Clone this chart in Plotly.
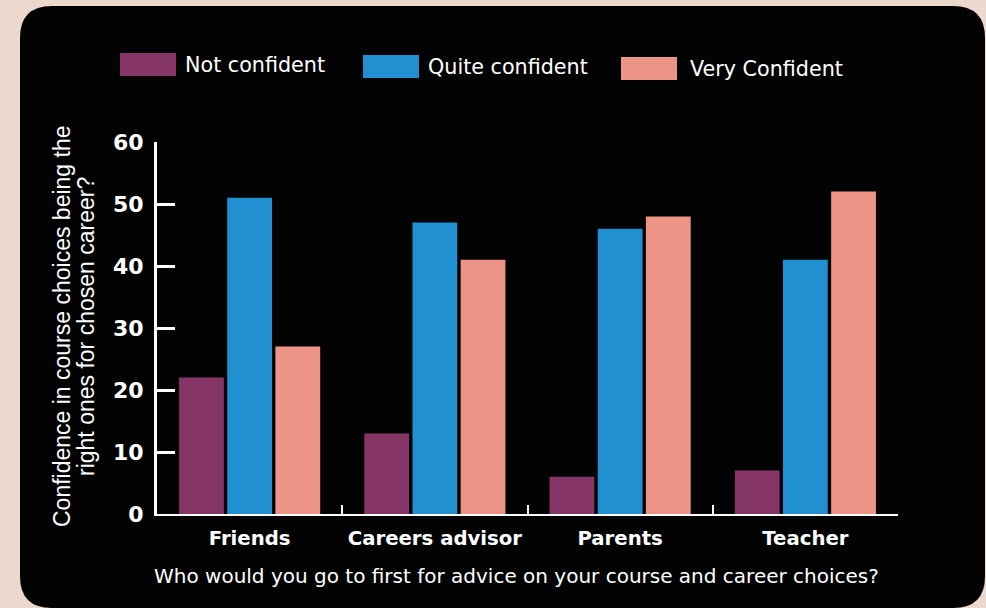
import plotly.graph_objects as go

# --- data -----------------------------------------------------------------
categories = ["Friends", "Careers advisor", "Parents", "Teacher"]
series_names = ["Not confident", "Quite confident", "Very Confident"]
not_confident = [22, 13, 6, 7]
quite_confident = [51, 47, 46, 41]
very_confident = [27, 41, 48, 52]
y_ticks = [0, 10, 20, 30, 40, 50, 60]

colors = ["#863567", "#2190D0", "#EC9587"]
values = [not_confident, quite_confident, very_confident]

FONT = "DejaVu Sans"
W, H = 986, 608
L, R, T, B = 157, 898, 142, 514  # plot area in pixels


def px(x):
    return (x - L) / (R - L)


def py(y):
    return (B - y) / (B - T)


fig = go.Figure()
for name, vals, col in zip(series_names, values, colors):
    fig.add_trace(go.Bar(x=categories, y=vals, name=name, marker_color=col,
                         marker_line_width=0, showlegend=False))

# rounded black panel behind the chart
x0, x1, y0, y1, r = 20, 985, 6, 608, 32
path = (f"M {px(x0 + r)} {py(y0)} L {px(x1 - r)} {py(y0)} "
        f"Q {px(x1)} {py(y0)} {px(x1)} {py(y0 + r)} "
        f"L {px(x1)} {py(y1 - r)} Q {px(x1)} {py(y1)} {px(x1 - r)} {py(y1)} "
        f"L {px(x0 + r)} {py(y1)} Q {px(x0)} {py(y1)} {px(x0)} {py(y1 - r)} "
        f"L {px(x0)} {py(y0 + r)} Q {px(x0)} {py(y0)} {px(x0 + r)} {py(y0)} Z")
shapes = [dict(type="path", xref="paper", yref="paper", path=path,
               fillcolor="#030303", line_width=0, layer="below")]

# legend: swatches + labels
legend_pos = [(120, 53, 185), (363, 55, 428), (621, 57, 690)]
annotations = []
for (sx, sy, tx), name, col in zip(legend_pos, series_names, colors):
    shapes.append(dict(type="rect", xref="paper", yref="paper",
                       x0=px(sx), x1=px(sx + 56), y0=py(sy), y1=py(sy + 23),
                       fillcolor=col, line_width=0))
    annotations.append(dict(xref="paper", yref="paper", x=px(tx - 2), y=py(sy + 12),
                            xanchor="left", yanchor="middle", showarrow=False,
                            text=name, font=dict(family=FONT, size=20.7, color="white")))

# axis titles
annotations.append(dict(xref="paper", yref="paper", x=px(516), y=py(576),
                        xanchor="center", yanchor="middle", showarrow=False,
                        text="Who would you go to first for advice on your course and career choices?",
                        font=dict(family=FONT, size=20, color="white")))
for line, cx in [("Confidence in course choices being the", 62),
                 ("right ones for chosen career?", 86)]:
    annotations.append(dict(xref="paper", yref="paper", x=px(cx), y=py(327),
                            xanchor="center", yanchor="middle", showarrow=False,
                            textangle=-90, text=line,
                            font=dict(family="Liberation Sans", size=23, color="white")))

fig.update_layout(
    width=W, height=H,
    margin=dict(l=L, r=W - R, t=T, b=H - B, pad=0),
    paper_bgcolor="#ECD8CD",
    plot_bgcolor="rgba(0,0,0,0)",
    barmode="group", bargap=0.22, bargroupgap=0.07,
    shapes=shapes, annotations=annotations,
    xaxis=dict(showline=True, linecolor="white", linewidth=2,
               ticks="inside", tickson="boundaries", ticklen=9, tickwidth=2,
               tickcolor="white", showgrid=False, zeroline=False,
               tickfont=dict(family=FONT, size=19.7, color="white", weight="bold"),
               ticklabelstandoff=5),
    yaxis=dict(range=[0, 60], tickvals=y_ticks, showline=True, linecolor="white",
               linewidth=3, ticks="inside", ticklen=18, tickwidth=3,
               tickcolor="white", showgrid=False, zeroline=False,
               tickfont=dict(family=FONT, size=22, color="white", weight="bold"),
               ticklabelstandoff=6),
)

fig.write_html("out.html")
